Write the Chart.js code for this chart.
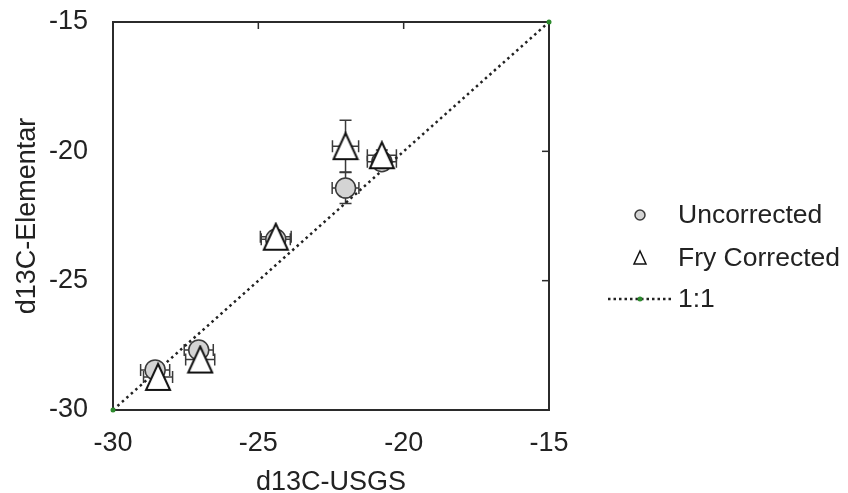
<!DOCTYPE html>
<html>
<head>
<meta charset="utf-8">
<script src="https://cdn.jsdelivr.net/npm/chart.js@4.4.0/dist/chart.umd.min.js"></script>
<style>
    html, body { margin: 0; padding: 0; background: #fff; }
    #wrap { width: 848px; height: 493px; position: relative; }
</style>
</head>
<body>
<div id="wrap"><canvas id="chart" width="848" height="493"></canvas></div>
<script>
// d13C values
const usgsUncorr = [-28.55, -27.05, -24.4, -22.0, -20.75];
const elemUncorr = [-28.45, -27.68, -23.4, -21.42, -20.4];
const xErrUncorr = [0.5, 0.5, 0.5, 0.46, 0.5];
const yErrUncorr = [0.2, 0.2, 0.2, 0.6, 0.2];

const usgsFry = [-28.45, -27.0, -24.4, -22.0, -20.75];
const elemFry = [-28.72, -28.05, -23.3, -19.8, -20.15];
const xErrFry = [0.5, 0.5, 0.53, 0.45, 0.5];
const yErrFry = [0.2, 0.2, 0.2, 1.0, 0.2];

const oneToOneX = [-30, -15];
const oneToOneY = [-30, -15];
const axisTicks = [-30, -25, -20, -15];

const legendLabels = ['Uncorrected', 'Fry Corrected', '1:1'];

const FONT = "'Liberation Sans', Arial, sans-serif";
const TEXT = '#222';
const LINE = '#2b2b2b';
const GREEN = '#2e8b2e';

function toPoints(xs, ys) {
    return xs.map((x, i) => ({ x: x, y: ys[i] }));
}

// Tall triangle marker, like the one in the picture
function makeTriangle(w, h, lw) {
    const c = document.createElement('canvas');
    c.width = w + lw * 2;
    c.height = h + lw * 2;
    const g = c.getContext('2d');
    g.beginPath();
    g.moveTo(c.width / 2, lw);
    g.lineTo(c.width - lw, lw + h);
    g.lineTo(lw, lw + h);
    g.closePath();
    g.fillStyle = '#fff';
    g.fill();
    g.lineWidth = lw;
    g.lineJoin = 'miter';
    g.strokeStyle = '#111';
    g.stroke();
    return c;
}
const triMarker = makeTriangle(24, 26, 2);

const errorSets = [
    { x: usgsUncorr, y: elemUncorr, ex: xErrUncorr, ey: yErrUncorr },
    { x: usgsFry, y: elemFry, ex: xErrFry, ey: yErrFry }
];

const frame = {
    id: 'frame',
    beforeDatasetsDraw(chart) {
        const { ctx, chartArea: a, scales: { x, y } } = chart;
        ctx.save();
        // plot box
        ctx.strokeStyle = LINE;
        ctx.lineWidth = 2;
        ctx.strokeRect(a.left, a.top, a.right - a.left, a.bottom - a.top);
        // inward ticks on top and right
        ctx.lineWidth = 1.5;
        axisTicks.forEach(v => {
            const px = x.getPixelForValue(v);
            ctx.beginPath();
            ctx.moveTo(px, a.top);
            ctx.lineTo(px, a.top + 7);
            ctx.stroke();
            const py = y.getPixelForValue(v);
            ctx.beginPath();
            ctx.moveTo(a.right, py);
            ctx.lineTo(a.right - 7, py);
            ctx.stroke();
        });
        // error bars
        ctx.strokeStyle = '#3a3a3a';
        ctx.lineWidth = 1.5;
        const cap = 6;
        errorSets.forEach(s => {
            s.x.forEach((xv, i) => {
                const px = x.getPixelForValue(xv);
                const py = y.getPixelForValue(s.y[i]);
                const x0 = x.getPixelForValue(xv - s.ex[i]);
                const x1 = x.getPixelForValue(xv + s.ex[i]);
                const y0 = y.getPixelForValue(s.y[i] - s.ey[i]);
                const y1 = y.getPixelForValue(s.y[i] + s.ey[i]);
                ctx.beginPath();
                ctx.moveTo(x0, py); ctx.lineTo(x1, py);
                ctx.moveTo(x0, py - cap); ctx.lineTo(x0, py + cap);
                ctx.moveTo(x1, py - cap); ctx.lineTo(x1, py + cap);
                ctx.moveTo(px, y0); ctx.lineTo(px, y1);
                ctx.moveTo(px - cap, y0); ctx.lineTo(px + cap, y0);
                ctx.moveTo(px - cap, y1); ctx.lineTo(px + cap, y1);
                ctx.stroke();
            });
        });
        ctx.restore();
    },
    afterDraw(chart) {
        const ctx = chart.ctx;
        const mx = 640, tx = 678;
        const rows = [215, 258, 299];
        ctx.save();
        // circle
        ctx.beginPath();
        ctx.arc(mx, rows[0], 5, 0, Math.PI * 2);
        ctx.fillStyle = '#d4d4d4';
        ctx.fill();
        ctx.lineWidth = 1.5;
        ctx.strokeStyle = '#3a3a3a';
        ctx.stroke();
        // triangle
        ctx.beginPath();
        ctx.moveTo(mx, rows[1] - 7);
        ctx.lineTo(mx + 6, rows[1] + 6);
        ctx.lineTo(mx - 6, rows[1] + 6);
        ctx.closePath();
        ctx.fillStyle = '#fff';
        ctx.fill();
        ctx.strokeStyle = '#111';
        ctx.stroke();
        // dotted line with green dot
        ctx.beginPath();
        ctx.setLineDash([2.5, 3]);
        ctx.lineWidth = 2.5;
        ctx.strokeStyle = '#222';
        ctx.moveTo(608, rows[2]);
        ctx.lineTo(672, rows[2]);
        ctx.stroke();
        ctx.setLineDash([]);
        ctx.beginPath();
        ctx.arc(mx, rows[2], 2.5, 0, Math.PI * 2);
        ctx.fillStyle = GREEN;
        ctx.fill();
        // labels
        ctx.fillStyle = TEXT;
        ctx.font = '26.5px ' + FONT;
        ctx.textBaseline = 'middle';
        ctx.textAlign = 'left';
        legendLabels.forEach((t, i) => ctx.fillText(t, tx, rows[i] + 1));
        ctx.restore();
    }
};

const tickFont = { family: FONT, size: 27 };
const titleFont = { family: FONT, size: 27, lineHeight: 1 };

new Chart(document.getElementById('chart'), {
    type: 'scatter',
    data: {
        datasets: [
            {
                label: 'Fry Corrected',
                data: toPoints(usgsFry, elemFry),
                pointStyle: triMarker,
                order: 1
            },
            {
                label: 'Uncorrected',
                data: toPoints(usgsUncorr, elemUncorr),
                pointStyle: 'circle',
                pointRadius: 10,
                backgroundColor: '#d4d4d4',
                borderColor: '#3a3a3a',
                borderWidth: 1.5,
                order: 2
            },
            {
                label: '1:1',
                type: 'line',
                data: toPoints(oneToOneX, oneToOneY),
                borderColor: '#222',
                borderWidth: 2.5,
                borderDash: [2.5, 3.5],
                pointRadius: 2.5,
                pointBackgroundColor: GREEN,
                pointBorderWidth: 0,
                clip: false,
                order: 3
            }
        ]
    },
    options: {
        responsive: false,
        animation: false,
        events: [],
        layout: { padding: { top: 22, right: 299, left: 0, bottom: 0 } },
        plugins: {
            legend: { display: false },
            tooltip: { enabled: false }
        },
        scales: {
            x: {
                type: 'linear',
                min: -30,
                max: -15,
                afterBuildTicks: s => { s.ticks = axisTicks.map(v => ({ value: v })); },
                afterFit: s => { s.height = 83; s.paddingLeft = 0; s.paddingRight = 0; },
                grid: { display: false, drawTicks: false },
                border: { display: false },
                ticks: { padding: 17, font: tickFont, color: TEXT, maxRotation: 0 },
                title: { display: true, text: 'd13C-USGS', font: titleFont, color: TEXT, padding: { top: 0, bottom: -3 } }
            },
            y: {
                type: 'linear',
                min: -30,
                max: -15,
                afterBuildTicks: s => { s.ticks = axisTicks.map(v => ({ value: v })); },
                afterFit: s => { s.width = 113; s.paddingTop = 0; s.paddingBottom = 0; },
                grid: { display: false, drawTicks: false },
                border: { display: false },
                ticks: { padding: 25, font: tickFont, color: TEXT },
                title: { display: true, text: 'd13C-Elementar', font: titleFont, color: TEXT, padding: { top: 14, bottom: 0 } }
            }
        }
    },
    plugins: [frame]
});
</script>
</body>
</html>
